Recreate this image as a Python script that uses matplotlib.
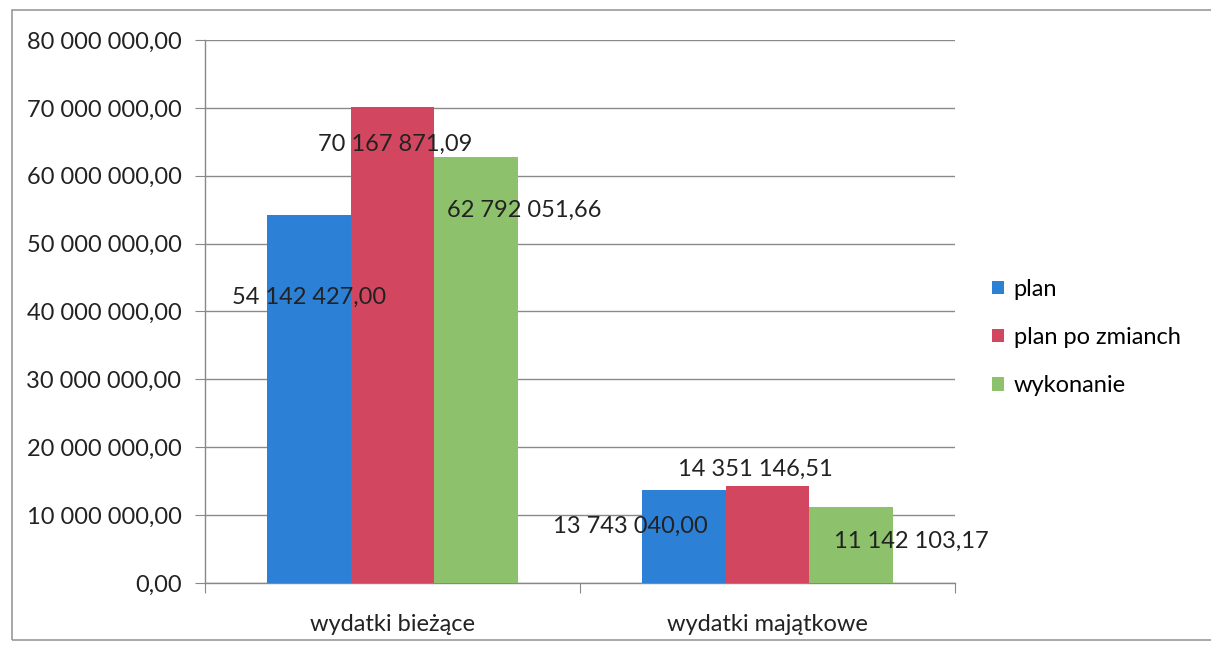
import matplotlib.pyplot as plt
import matplotlib.patches as patches
import numpy as np

plt.rcParams['font.family'] = ['Lato', 'DejaVu Sans']

kategorie = ['wydatki bieżące', 'wydatki majątkowe']
serie = ['plan', 'plan po zmianch', 'wykonanie']
plan = [54142427.00, 13743040.00]
plan_po_zmianach = [70167871.09, 14351146.51]
wykonanie = [62792051.66, 11142103.17]
etykiety = [['54 142 427,00', '13 743 040,00'],
            ['70 167 871,09', '14 351 146,51'],
            ['62 792 051,66', '11 142 103,17']]
kolory = ['#2c80d6', '#d2475f', '#8dc16b']

# przesuniecia etykiet (px) wzgledem srodka gornej krawedzi slupka
przes = [[(0, -82), (-54, -37)],
         [(3, -38), (-12, 16)],
         [(48, -54), (60, -34)]]

fig = plt.figure(figsize=(12.11, 6.48), dpi=100)
ax = fig.add_axes([0.1693, 0.1003, 0.6193, 0.838])

x = np.arange(len(kategorie))
w = 0.223
dane = [plan, plan_po_zmianach, wykonanie]
for i, d in enumerate(dane):
    bars = ax.bar(x + (i - 1) * w, d, w, color=kolory[i], label=serie[i], zorder=3)
    for j, b in enumerate(bars):
        dx, dy = przes[i][j]
        ax.annotate(etykiety[i][j], (b.get_x() + b.get_width() / 2, b.get_height()),
                    xytext=(dx * 0.72, dy * 0.72), textcoords='offset points',
                    ha='center', va='center', fontsize=17, color='#222222', zorder=4)

ax.set_ylim(0, 80000000)
ax.set_xlim(-0.5, 1.5)
yt = np.arange(0, 80000001, 10000000)
ax.set_yticks(yt)
ax.set_yticklabels(['{:,.2f}'.format(v).replace(',', ' ').replace('.', ',') for v in yt])
ax.set_xticks([-0.5, 0.5, 1.5])
ax.set_xticklabels([])
ax.set_xticks(x, minor=True)
ax.set_xticklabels(kategorie, minor=True)
ax.tick_params(axis='x', which='minor', length=0, pad=22, labelsize=17, labelcolor='#222222')
ax.tick_params(axis='x', which='major', length=7, color='#888888', direction='out')
ax.tick_params(axis='y', length=7, color='#888888', labelsize=17, labelcolor='#222222', pad=10)

ax.grid(axis='y', color='#8a8a8a', linewidth=1, zorder=0)
for s in ['top', 'right']:
    ax.spines[s].set_visible(False)
for s in ['left', 'bottom']:
    ax.spines[s].set_color('#888888')
    ax.spines[s].set_linewidth(1)

ax.legend(loc='center left', bbox_to_anchor=(0.802, 0.479), bbox_transform=fig.transFigure,
          frameon=False, fontsize=17, handlelength=0.5, handleheight=0.5,
          handletextpad=0.4, labelspacing=1.15)

fig.patches.append(patches.Rectangle((0.01, 0.012), 1.2, 0.972, transform=fig.transFigure,
                                     fill=False, edgecolor='#999999', linewidth=1.2))

fig.savefig('out.png', dpi=100)
